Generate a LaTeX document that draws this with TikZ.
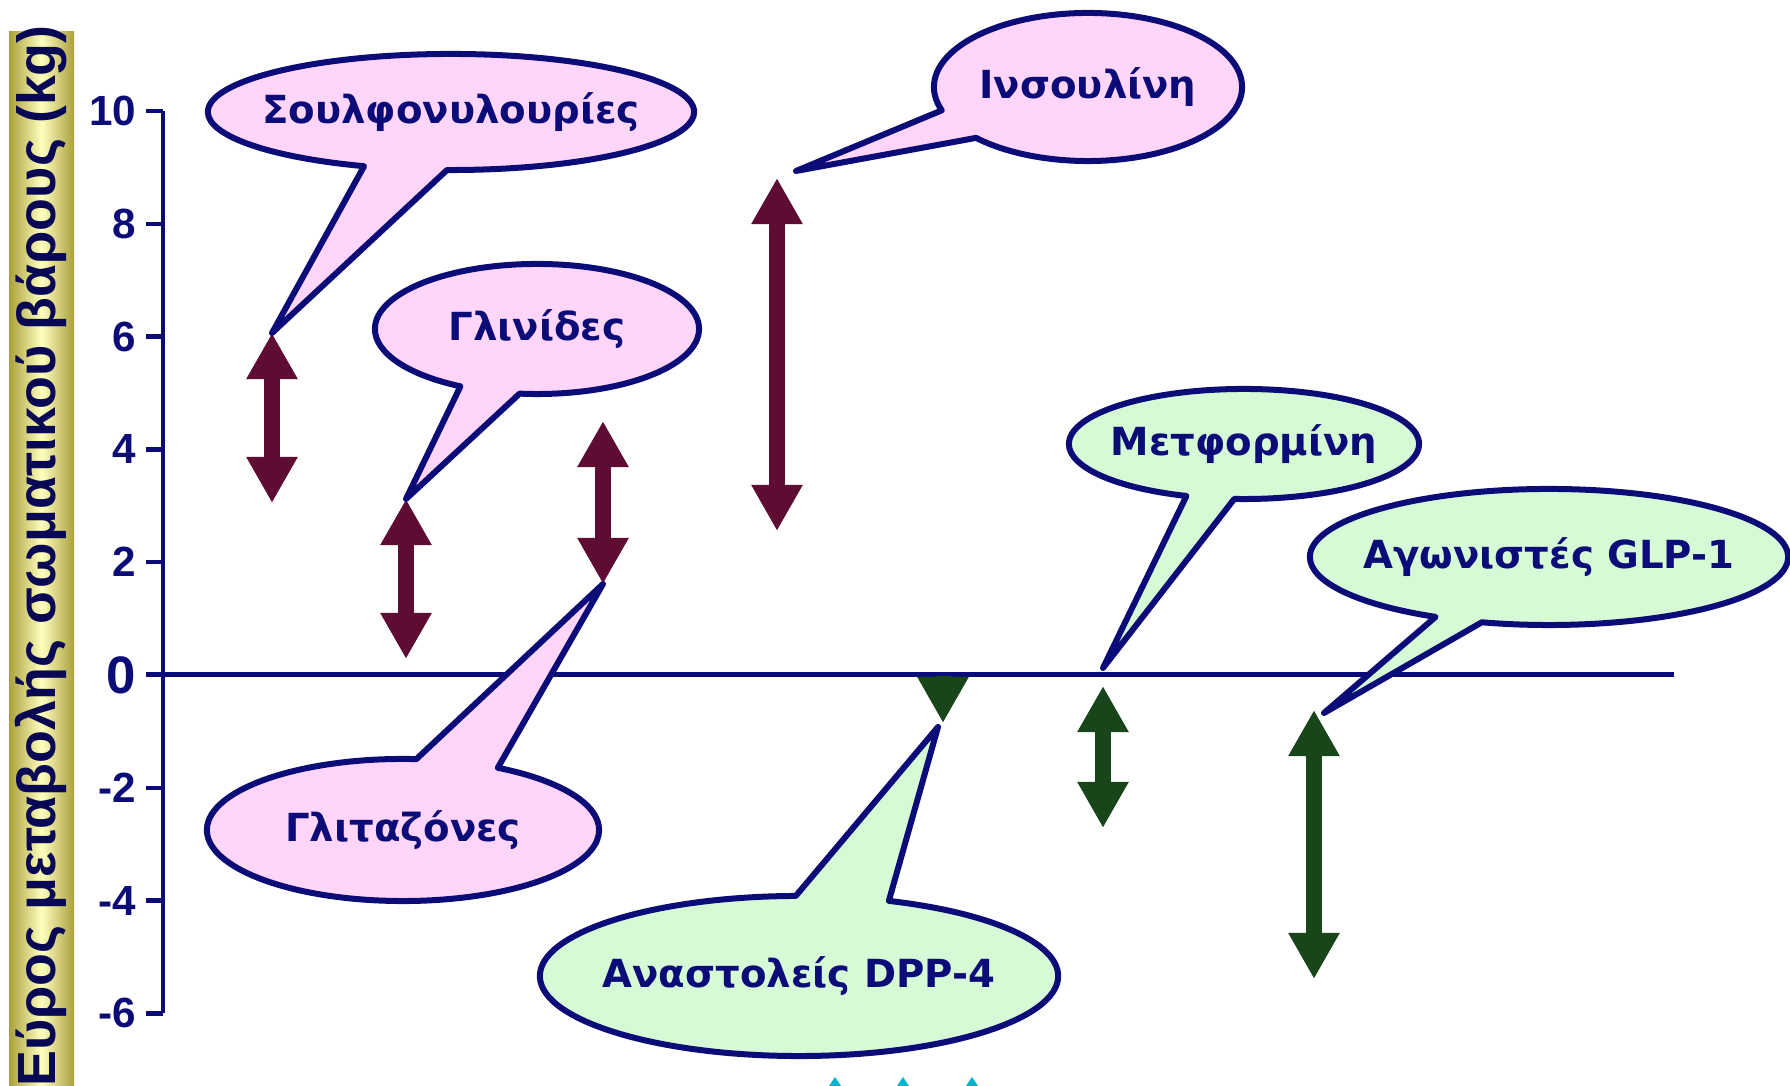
\documentclass[tikz,border=0pt]{standalone}
\usepackage{fontspec}
\setmainfont{DejaVu Sans}
\newfontfamily\axisfont{Liberation Sans}
\usetikzlibrary{arrows.meta,shapes.callouts}

\definecolor{navy}{RGB}{12,12,120}
\definecolor{wine}{RGB}{95,12,52}
\definecolor{pine}{RGB}{24,70,26}
\definecolor{pinkfill}{RGB}{255,214,250}
\definecolor{mintfill}{RGB}{214,250,214}
\definecolor{barfill}{RGB}{255,255,190}
\definecolor{baredge}{RGB}{170,160,60}
\definecolor{tipcyan}{RGB}{0,180,210}

\newcommand{\bubbletext}[1]{\makebox[0pt]{#1}}

\tikzset{
  bubble/.style={ellipse callout, draw=navy, line width=0.06cm, line join=round, text=navy, inner sep=0pt,
    font=\fontsize{11}{13}\selectfont\bfseries},
  pinkbubble/.style={bubble, fill=pinkfill},
  mintbubble/.style={bubble, fill=mintfill},
  winearrow/.style={draw=wine, line width=0.16cm, {Triangle[length=0.46cm, width=0.48cm]}-{Triangle[length=0.46cm, width=0.48cm]}},
  pinearrow/.style={draw=pine, line width=0.16cm, {Triangle[length=0.46cm, width=0.48cm]}-{Triangle[length=0.46cm, width=0.48cm]}},
  ticklabel/.style={anchor=east, inner sep=0pt, text=navy, font=\axisfont\bfseries\fontsize{12}{14}\selectfont}
}

\begin{document}
\begin{tikzpicture}[x=0.01cm, y=-0.01cm]
\fill[white] (0,0) rectangle (1790,1086);
\useasboundingbox (0,0) rectangle (1790,1086);

% axis title bar
\shade[left color=baredge, right color=baredge, middle color=barfill] (9,32) rectangle (74,1100);
\node[rotate=90, text=navy!70!black, font=\axisfont\bfseries\fontsize{15.3}{17}\selectfont] (ytitle) at (41,556) {Εύρος μεταβολής σωματικού βάρους (kg)};

% axes
\draw[navy, line width=0.045cm] (163,111) -- (163,1013);
\foreach \v in {10,8,6,4,2,-2,-4,-6} {
  \draw[navy, line width=0.045cm] (146,{675-56.4*\v}) -- (163,{675-56.4*\v});
  \node[ticklabel] (lab\v) at (137,{675-56.4*\v}) {\v};
}
\node[ticklabel, font=\axisfont\bfseries\fontsize{15}{17}\selectfont] (lab0) at (137,675) {0};
\draw[navy, line width=0.05cm] (146,675) -- (1674,675);

% ranges
\coordinate (su-top) at (272,333);
\coordinate (su-bot) at (272,503);
\coordinate (gn-top) at (406,499);
\coordinate (gn-bot) at (406,659);
\coordinate (gz-top) at (603,421);
\coordinate (gz-bot) at (603,584);
\coordinate (in-top) at (777,178);
\coordinate (in-bot) at (777,531);
\coordinate (in-ptr) at (796,171);
\coordinate (dp-top) at (943,676);
\coordinate (dp-bot) at (943,723);
\coordinate (dp-ptr) at (938,727);
\coordinate (mf-top) at (1103,686);
\coordinate (mf-bot) at (1103,828);
\coordinate (mf-ptr) at (1103,668);
\coordinate (gl-top) at (1314,710);
\coordinate (gl-bot) at (1314,979);
\coordinate (gl-ptr) at (1324,713);

\draw[winearrow] (su-top) -- (su-bot);
\draw[winearrow] (gn-top) -- (gn-bot);
\draw[winearrow] (gz-top) -- (gz-bot);
\draw[winearrow] (in-top) -- (in-bot);
\draw[draw=pine, line width=0.16cm, -{Triangle[length=0.46cm, width=0.48cm]}] (dp-top) -- (dp-bot);
\draw[pinearrow] (mf-top) -- (mf-bot);
\draw[pinearrow] (gl-top) -- (gl-bot);

% callouts
\node[pinkbubble, minimum width=4.86cm, minimum height=1.16cm, callout absolute pointer={(su-top)}, callout pointer arc=20] (sulf) at (451,112) {\bubbletext{Σουλφονυλουρίες}};
\node[pinkbubble, minimum width=3.24cm, minimum height=1.30cm, callout absolute pointer={(gn-top)}, callout pointer arc=22] (glin) at (537,329) {\bubbletext{Γλινίδες}};
\node[pinkbubble, minimum width=3.92cm, minimum height=1.42cm, callout absolute pointer={(gz-bot)}, callout pointer arc=25] (glit) at (403,830) {\bubbletext{Γλιταζόνες}};
\node[pinkbubble, minimum width=3.08cm, minimum height=1.48cm, callout absolute pointer={(in-ptr)}, callout pointer arc=25] (insu) at (1088,87) {\bubbletext{Ινσουλίνη}};
\node[mintbubble, minimum width=3.50cm, minimum height=1.10cm, callout absolute pointer={(mf-ptr)}, callout pointer arc=16] (metf) at (1244,444) {\bubbletext{Μετφορμίνη}};
\node[mintbubble, minimum width=4.78cm, minimum height=1.36cm, callout absolute pointer={(gl-ptr)}, callout pointer arc=12] (glp) at (1549,557) {\bubbletext{Αγωνιστές GLP-1}};
\node[mintbubble, minimum width=5.18cm, minimum height=1.60cm, callout absolute pointer={(dp-ptr)}, callout pointer arc=21] (dpp) at (799,976) {\bubbletext{Αναστολείς DPP-4}};

% cut-off tips at the bottom edge
\foreach \x in {835,903,972}
  \fill[tipcyan] (\x-10,1092) -- (\x,1077) -- (\x+10,1092) -- cycle;
\end{tikzpicture}
\end{document}
